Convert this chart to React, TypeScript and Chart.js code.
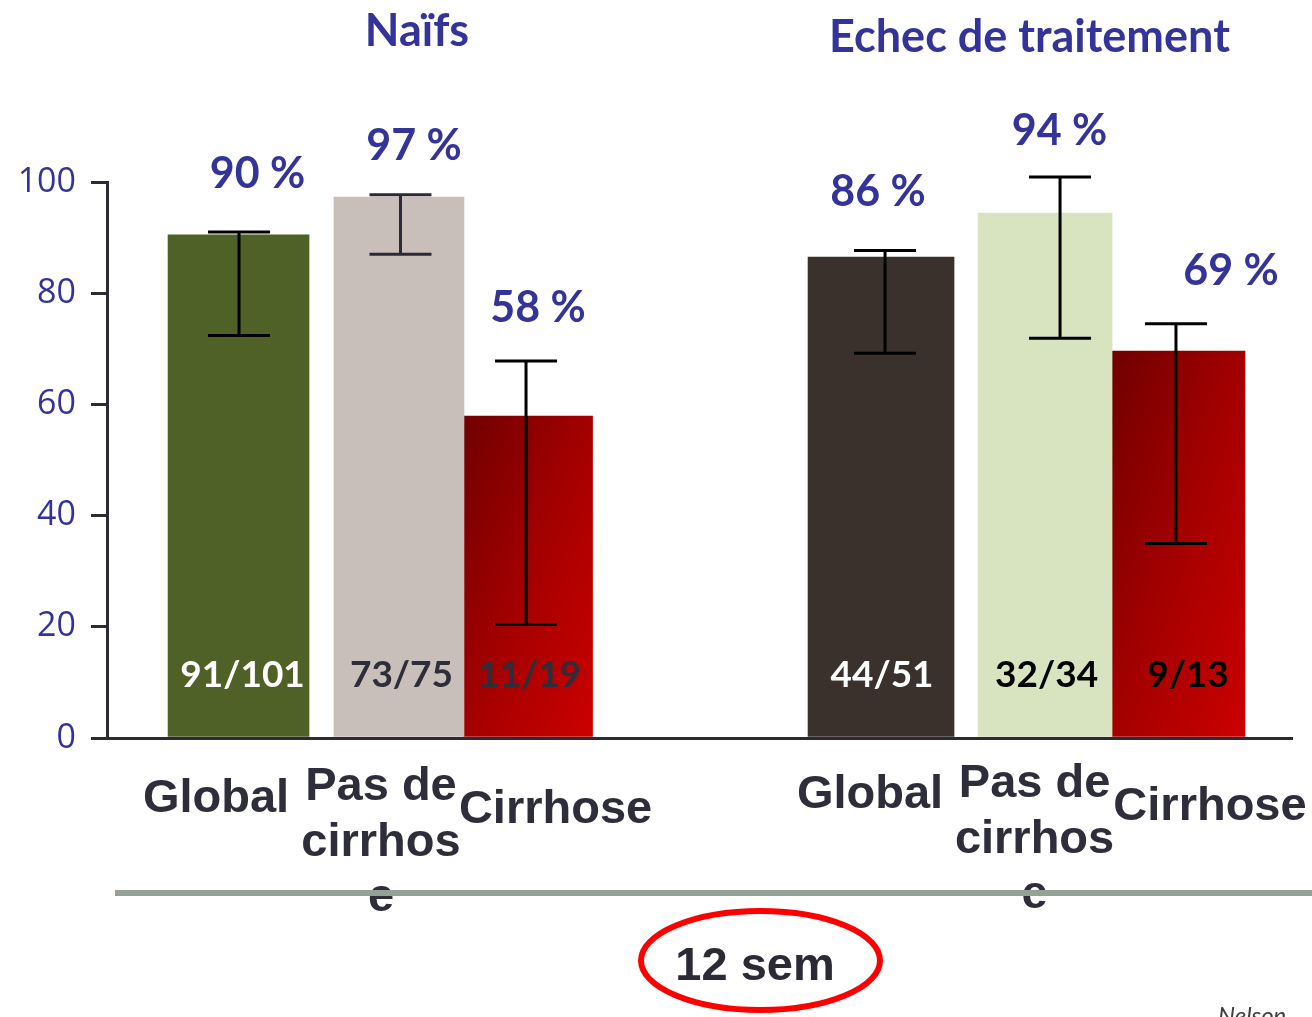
import React, { useEffect, useRef } from "react";
import { Chart, registerables } from "chart.js";

Chart.register(...registerables);

// ---------- data ----------
const groupTitles = ["Naïfs", "Echec de traitement"];
const categories = ["Global", "Pas de cirrhose", "Cirrhose", "Global", "Pas de cirrhose", "Cirrhose"];
const categoryLines = [["Global"], ["Pas de", "cirrhos", "e"], ["Cirrhose"], ["Global"], ["Pas de", "cirrhos", "e"], ["Cirrhose"]];
const svrValues = [90.5, 97.3, 57.9, 86.5, 94.4, 69.6];
const ciLow = [72.4, 87.0, 20.4, 69.2, 71.9, 35.0];
const ciHigh = [91.0, 97.7, 67.8, 87.7, 100.9, 74.5];
const percentLabels = ["90 %", "97 %", "58 %", "86 %", "94 %", "69 %"];
const fractionLabels = ["91/101", "73/75", "11/19", "44/51", "32/34", "9/13"];
const yTicks = [0, 20, 40, 60, 80, 100];
const periodLabel = "12 sem";
const sourceLabel = "Nelson";

// ---------- layout / style ----------
const X_POS = [11.1, 24.64, 35.53, 65.32, 79.16, 90.42]; // position on a 0..100 x axis
const BAR_W = [141, 130, 129, 146, 134, 133];
const BAR_COLORS = ["#506128", "#c9bfba", "gradient", "#3a302c", "#d8e4c0", "gradient"];
const ERR_DX = [0.5, 1.5, -2, 4, 15, -2.5];
const PCT_DX = [19, 15, 10, -3, 14.5, 52.5];
const PCT_DY = [44, 35, 39, 44, 32, 39];
const FRAC_DX = [4, 2.5, 1.5, 1, 1.5, 9.5];
const FRAC_COLORS = ["#ffffff", "#2e2d3a", "#2e2d3a", "#ffffff", "#000000", "#000000"];
const CAT_DX = [-22.5, -18, 27.5, -11, -10.5, 31.5];
const CAT_DY = [74, 62, 85, 70, 59, 82];
const BLUE = "#333399";
const AXIS = "#2b2a35";

function barGradient(ctx: any, i: number) {
  const chart = ctx.chart;
  const { chartArea, scales } = chart;
  if (!chartArea || !scales.x || !scales.y) return "#a00000";
  const cx = scales.x.getPixelForValue(X_POS[i]);
  const left = cx - BAR_W[i] / 2;
  const w = BAR_W[i];
  const top = scales.y.getPixelForValue(svrValues[i]);
  const bottom = scales.y.getPixelForValue(0);
  const h = bottom - top;
  // "scaled" 45° gradient: isolines follow the top-right -> bottom-left diagonal
  const k = (2 * w * h) / (h * h + w * w);
  const g = chart.ctx.createLinearGradient(left, top, left + h * k, top + w * k);
  g.addColorStop(0, "#700000");
  g.addColorStop(0.5, "#a40000");
  g.addColorStop(1, "#cc0000");
  return g;
}

const overlayPlugin = {
  id: "overlay",
  afterDatasetsDraw(chart: any) {
    const { ctx, scales } = chart;
    const xs = scales.x;
    const ys = scales.y;
    const y0 = ys.getPixelForValue(0);
    ctx.save();
    // error bars
    for (let i = 0; i < svrValues.length; i++) {
      const cx = xs.getPixelForValue(X_POS[i]) + ERR_DX[i];
      const yt = ys.getPixelForValue(ciHigh[i]);
      const yb = ys.getPixelForValue(ciLow[i]);
      ctx.strokeStyle = i === 1 ? "#2b2a35" : "#000000";
      ctx.lineWidth = 3;
      ctx.beginPath();
      ctx.moveTo(cx, yt);
      ctx.lineTo(cx, yb);
      ctx.moveTo(cx - 31, yt);
      ctx.lineTo(cx + 31, yt);
      ctx.moveTo(cx - 31, yb);
      ctx.lineTo(cx + 31, yb);
      ctx.stroke();
    }
    // percent labels
    ctx.font = "bold 43px Lato";
    ctx.fillStyle = BLUE;
    ctx.textAlign = "center";
    ctx.textBaseline = "alphabetic";
    for (let i = 0; i < svrValues.length; i++) {
      const cx = xs.getPixelForValue(X_POS[i]) + PCT_DX[i];
      const yt = ys.getPixelForValue(ciHigh[i]);
      ctx.fillText(percentLabels[i], cx, yt - PCT_DY[i]);
    }
    // fraction labels
    ctx.font = "bold 37px Lato";
    for (let i = 0; i < svrValues.length; i++) {
      const cx = xs.getPixelForValue(X_POS[i]) + FRAC_DX[i];
      ctx.fillStyle = FRAC_COLORS[i];
      ctx.fillText(fractionLabels[i], cx, y0 - 51);
    }
    ctx.restore();
  },
  afterDraw(chart: any) {
    const { ctx, scales } = chart;
    const xs = scales.x;
    const y0 = scales.y.getPixelForValue(0);
    ctx.save();
    ctx.textAlign = "center";
    ctx.textBaseline = "alphabetic";
    // category labels
    ctx.font = "bold 47px 'Liberation Sans', Arial, sans-serif";
    ctx.fillStyle = "#2e2d3a";
    for (let i = 0; i < categories.length; i++) {
      const cx = xs.getPixelForValue(X_POS[i]) + CAT_DX[i];
      categoryLines[i].forEach((line, k) => {
        ctx.fillText(line, cx, y0 + CAT_DY[i] + k * 55.5);
      });
    }
    // grey separator line
    ctx.strokeStyle = "#93a297";
    ctx.lineWidth = 6;
    ctx.beginPath();
    ctx.moveTo(115, 893);
    ctx.lineTo(1312, 893);
    ctx.stroke();
    // group titles
    ctx.font = "bold 45px Lato";
    ctx.fillStyle = BLUE;
    ctx.fillText(groupTitles[0], 417, 46);
    ctx.fillText(groupTitles[1], 1029.5, 52);
    // period label with red ellipse
    ctx.font = "bold 47px 'Liberation Sans', Arial, sans-serif";
    ctx.fillStyle = "#2b2a35";
    ctx.fillText(periodLabel, 755, 980);
    ctx.strokeStyle = "#ff0000";
    ctx.lineWidth = 6;
    ctx.beginPath();
    ctx.ellipse(760.5, 960.5, 119.5, 49.5, 0, 0, Math.PI * 2);
    ctx.stroke();
    // source
    ctx.font = "italic 24px Lato";
    ctx.fillStyle = "#404040";
    ctx.textAlign = "left";
    ctx.textBaseline = "top";
    ctx.fillText(sourceLabel, 1218, 1004);
    ctx.restore();
  },
};

export default function App() {
  const canvasRef = useRef<HTMLCanvasElement | null>(null);

  useEffect(() => {
    const canvas = canvasRef.current;
    if (!canvas) return;
    const datasets = svrValues.map((v, i) => ({
      label: categories[i],
      data: [{ x: X_POS[i], y: v }],
      barThickness: BAR_W[i],
      grouped: false,
      borderWidth: 0,
      backgroundColor: BAR_COLORS[i] === "gradient" ? (c: any) => barGradient(c, i) : BAR_COLORS[i],
    }));
    const chart = new Chart(canvas, {
      type: "bar",
      data: { datasets },
      plugins: [overlayPlugin],
      options: {
        animation: false,
        responsive: false,
        maintainAspectRatio: false,
        layout: { padding: { top: 182, right: 20, left: 0, bottom: 0 } },
        plugins: {
          legend: { display: false },
          tooltip: { enabled: false },
          title: { display: false },
        },
        scales: {
          x: {
            type: "linear",
            min: 0,
            max: 100,
            offset: false,
            ticks: { display: false },
            grid: { display: false },
            border: { display: true, color: AXIS, width: 3 },
            afterFit: (scale: any) => {
              scale.height = 279;
            },
          },
          y: {
            type: "linear",
            min: 0,
            max: 100,
            afterBuildTicks: (scale: any) => {
              scale.ticks = yTicks.map((v) => ({ value: v }));
            },
            ticks: {
              color: BLUE,
              font: { family: "'Open Sans'", size: 34 },
              padding: 15,
            },
            grid: {
              display: true,
              drawOnChartArea: false,
              drawTicks: true,
              tickLength: 16,
              color: AXIS,
              lineWidth: 3,
            },
            border: { display: true, color: AXIS, width: 3 },
            afterFit: (scale: any) => {
              scale.width = 107;
            },
          },
        },
      },
    } as any);
    return () => chart.destroy();
  }, []);

  return (
    <div style={{ position: "absolute", left: 0, top: 0, width: 1312, height: 1017, background: "#ffffff" }}>
      <canvas ref={canvasRef} width={1312} height={1017} style={{ display: "block" }} />
    </div>
  );
}
